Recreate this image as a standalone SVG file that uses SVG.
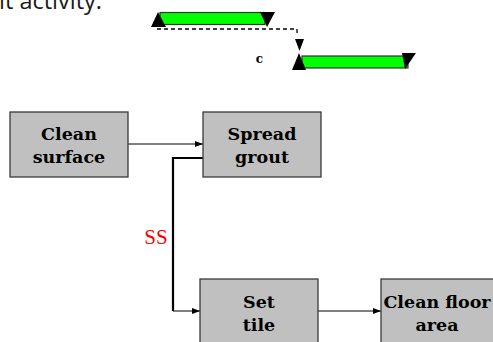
<svg xmlns="http://www.w3.org/2000/svg" width="493" height="342" viewBox="0 0 493 342">
  <style>
    .box { fill: #c0c0c0; stroke: #3a3a3a; stroke-width: 1.3; }
    .lbl { font-family: "DejaVu Serif", "Liberation Serif", serif; font-weight: bold; font-size: 17.5px; fill: #000; text-anchor: middle; }
    .bar { fill: #00ff00; stroke: #333; stroke-width: 1.2; }
    .tri { fill: #000; }
    .link { fill: none; stroke: #000; stroke-width: 1; }
    .thick { fill: none; stroke: #000; stroke-width: 2.2; }
  </style>
  <defs>
    <marker id="arrow" viewBox="0 0 8 8" refX="8" refY="4" markerWidth="8" markerHeight="8" markerUnits="userSpaceOnUse" orient="auto">
      <path d="M0,1 L8,4 L0,7 z" fill="#000"/>
    </marker>
  </defs>

  <rect width="493" height="342" fill="#fff"/>

  <!-- caption fragment -->
  <text x="-1" y="9" font-family="'Open Sans', 'Liberation Sans', sans-serif" font-size="23.5px" fill="#1a1a1a">it activity.</text>

  <!-- start-to-start bar illustration -->
  <g id="bar-a">
    <rect class="bar" x="160" y="12.5" width="105" height="12"/>
    <path class="tri" d="M158,12 L151,27 L166,27 z"/>
    <path class="tri" d="M260,12 L275,12 L267,27 z"/>
  </g>
  <path d="M157,29 H297 V34" fill="none" stroke="#000" stroke-width="1.3" stroke-dasharray="4 3"/>
  <g id="bar-b">
    <path class="tri" d="M295,39 L304,39 L299.5,51 z"/>
    <rect class="bar" x="302" y="56" width="106" height="12"/>
    <path class="tri" d="M299,53 L292,70 L306,70 z"/>
    <path class="tri" d="M402,53 L416,53 L405,69 z"/>
    <text x="259.5" y="63" font-family="'DejaVu Serif', serif" font-weight="bold" font-size="12px" fill="#000" text-anchor="middle">c</text>
  </g>

  <!-- connectors -->
  <g id="connectors">
    <line class="link" x1="128" y1="144" x2="203" y2="144" marker-end="url(#arrow)"/>
    <path class="thick" d="M203,158 H173 V311"/>
    <line class="link" x1="173" y1="311" x2="200" y2="311" marker-end="url(#arrow)"/>
    <line class="link" x1="318" y1="311" x2="381" y2="311" marker-end="url(#arrow)"/>
    <text x="156" y="244" font-family="'Liberation Serif', serif" font-size="21px" fill="#ff0000" text-anchor="middle">SS</text>
  </g>

  <!-- activity nodes -->
  <g id="clean-surface">
    <rect class="box" x="10" y="112" width="118" height="65"/>
    <text class="lbl" x="69" y="140">Clean</text>
    <text class="lbl" x="69" y="163">surface</text>
  </g>
  <g id="spread-grout">
    <rect class="box" x="203" y="112" width="118" height="65"/>
    <text class="lbl" x="262" y="140">Spread</text>
    <text class="lbl" x="262" y="163">grout</text>
  </g>
  <g id="set-tile">
    <rect class="box" x="200" y="279" width="118" height="65"/>
    <text class="lbl" x="259" y="308">Set</text>
    <text class="lbl" x="259" y="331">tile</text>
  </g>
  <g id="clean-floor-area">
    <rect class="box" x="381" y="279" width="118" height="65"/>
    <text class="lbl" x="437" y="308">Clean floor</text>
    <text class="lbl" x="437" y="331">area</text>
  </g>
</svg>
